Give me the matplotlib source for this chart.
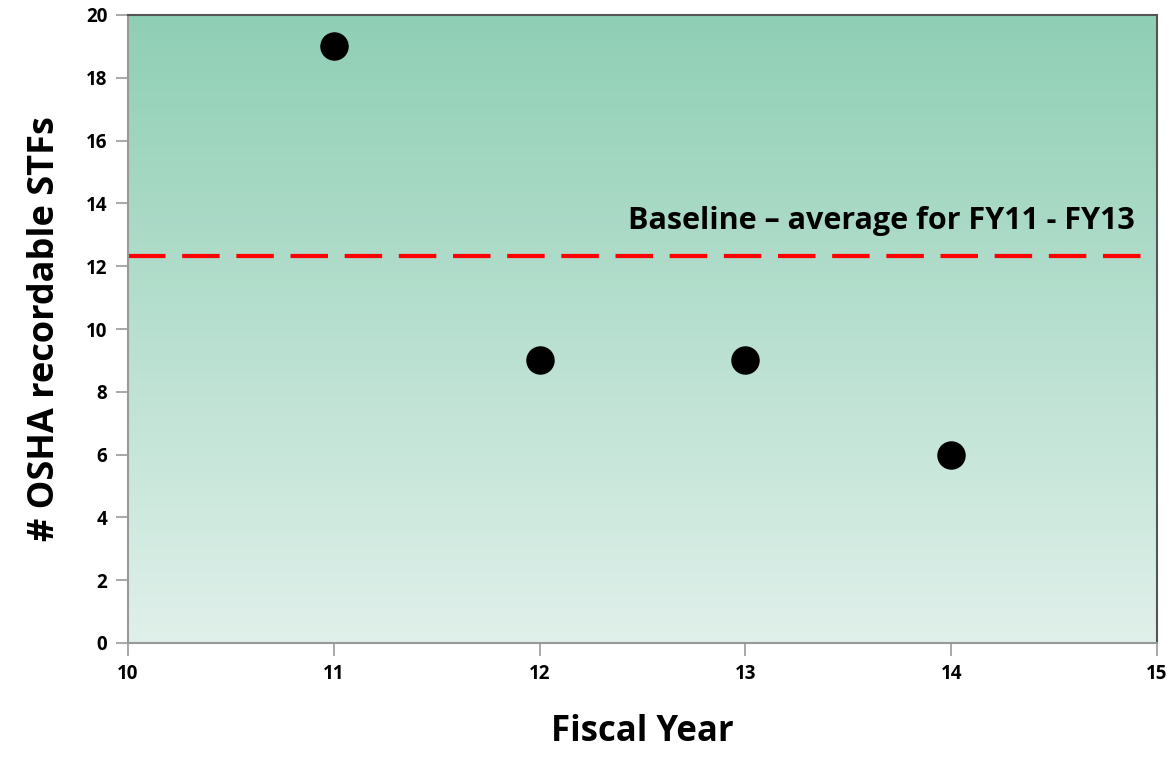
import numpy as np
import matplotlib.pyplot as plt
from matplotlib.colors import LinearSegmentedColormap

# data
fiscal_year = [11, 12, 13, 14]
stfs = [19, 9, 9, 6]
baseline = np.mean(stfs[:3])
x_ticks = [10, 11, 12, 13, 14, 15]
y_ticks = [0, 2, 4, 6, 8, 10, 12, 14, 16, 18, 20]

plt.rcParams['font.family'] = ['Open Sans', 'DejaVu Sans']
plt.rcParams['font.weight'] = 'bold'

fig = plt.figure(figsize=(11.75, 7.61), dpi=100)
ax = fig.add_axes([128/1175, 1 - 643/761, (1157-128)/1175, (643-15)/761])

# gradient background
grad = LinearSegmentedColormap.from_list('g', ['#e0f0ea', '#8fcfb5'])
ax.imshow(np.linspace(0, 1, 256).reshape(-1, 1), cmap=grad, origin='lower',
          extent=[10, 15, 0, 20], aspect='auto', zorder=0)

ax.axhline(baseline, color='#ff0000', lw=3, ls=(0, (9, 4)), zorder=2)
ax.text(14.89, 13.2, 'Baseline \u2013 average for FY11 - FY13', ha='right', va='baseline',
        fontsize=22, fontweight='bold', zorder=3)

ax.scatter(fiscal_year, stfs, s=380, color='black', zorder=4)

ax.set_xlim(10, 15)
ax.set_ylim(0, 20)
ax.set_xticks(x_ticks)
ax.set_yticks(y_ticks)
ax.tick_params(labelsize=13.5, color='#999999', length=9, width=1.2, pad=6)
for lab in ax.get_xticklabels() + ax.get_yticklabels():
    lab.set_fontweight('bold')
for s in ['left', 'bottom']:
    ax.spines[s].set_color('#999999')
    ax.spines[s].set_linewidth(1.5)
for s in ['top', 'right']:
    ax.spines[s].set_color('#555555')
    ax.spines[s].set_linewidth(1.5)

ax.set_xlabel('Fiscal Year', fontsize=25, fontweight='bold', labelpad=22)
ax.set_ylabel('# OSHA recordable STFs', fontsize=26, fontweight='bold', labelpad=16)

fig.savefig('out.png', dpi=100)
